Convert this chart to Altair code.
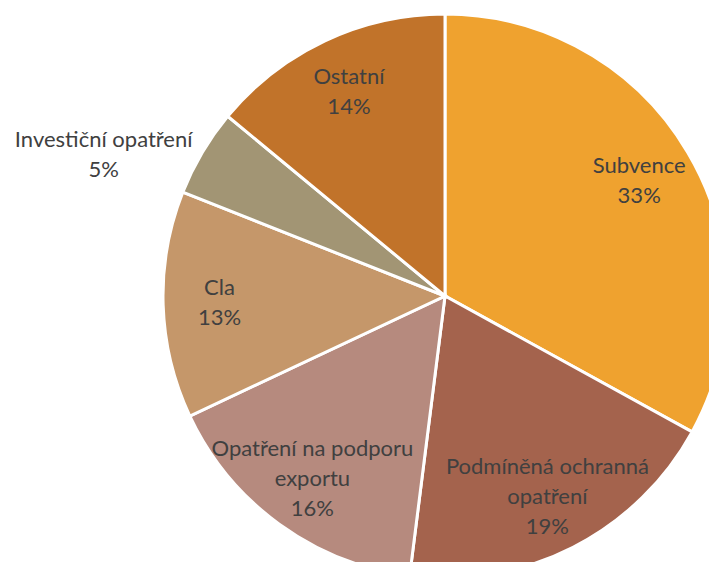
import altair as alt
import pandas as pd
import numpy as np

categories = ["Subvence", "Podmíněná ochranná opatření", "Opatření na podporu exportu",
              "Cla", "Investiční opatření", "Ostatní"]
label_lines = ["Subvence", "Podmíněná ochranná\nopatření", "Opatření na podporu\nexportu",
               "Cla", "Investiční opatření", "Ostatní"]
values = [33, 19, 16, 13, 5, 14]
colors = ["#EFA22F", "#A4634D", "#B68A7E", "#C5976A", "#A29574", "#C1732A"]

R = 282
df = pd.DataFrame({
    "cat": categories,
    "value": values,
    "order": list(range(len(categories))),
})
df["label"] = [f"{l}\n{v}%" for l, v in zip(label_lines, values)]
df["nlines"] = df["label"].str.count("\n") + 1
cum = np.cumsum(values)
total = float(sum(values))
outside = [v < 6 for v in values]
# label angle: slice middle inside; near the slice start for labels placed outside
df["mid"] = [((c - v * 0.95) if o else (c - v / 2)) / total * 2 * np.pi
             for c, v, o in zip(cum, values, outside)]
df["lr"] = [R * 1.31 if o else R * 0.8 for o in outside]

cx = alt.value(437)
cy = alt.value(288)

arcs = alt.Chart(df).mark_arc(outerRadius=R, stroke="white", strokeWidth=3).encode(
    theta=alt.Theta("value:Q", stack=True),
    order=alt.Order("order:Q"),
    x=cx, y=cy,
    color=alt.Color("cat:N", scale=alt.Scale(domain=categories, range=colors), legend=None),
)

LH = 30
layers = [arcs]
for n in (2, 3):
    layers.append(
        alt.Chart(df).transform_filter(alt.datum.nlines == n).mark_text(
            font="Lato", fontSize=22, color="#404040", lineBreak="\n",
            lineHeight=LH, align="center", baseline="middle", dy=-(n - 1) * LH / 2,
        ).encode(
            x=cx, y=cy,
            theta=alt.Theta("mid:Q", scale=None),
            radius=alt.Radius("lr:Q", scale=None),
            text="label:N",
        )
    )

chart = alt.layer(*layers).properties(
    width=701, height=554, padding=0, autosize=alt.AutoSizeParams(type="none")
).configure_view(stroke=None)

chart.save("out.html", embed_options={"renderer": "svg", "actions": False})
